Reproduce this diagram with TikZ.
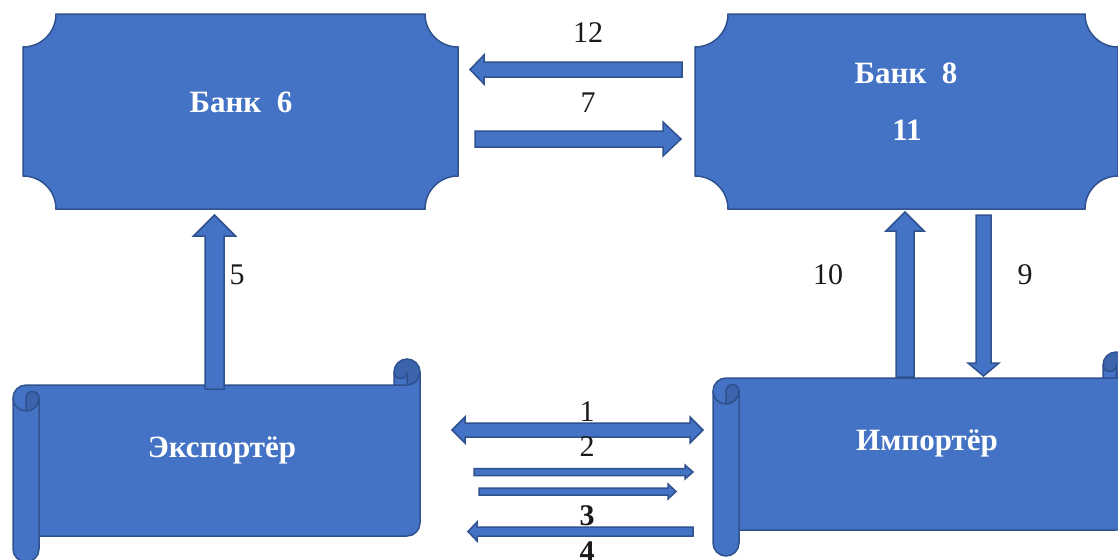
\documentclass[tikz,border=0pt]{standalone}
\usepackage{fontspec}
\setmainfont{Liberation Serif}
\usetikzlibrary{calc}

\definecolor{boxblue}{HTML}{4472C4}
\definecolor{boxedge}{HTML}{2F528F}
\definecolor{curlblue}{HTML}{3B64AD}
\definecolor{labelgray}{HTML}{1A1A1A}

\tikzset{
  bankbox/.style={fill=boxblue, draw=boxedge, line width=0.75pt},
  scrollfill/.style={fill=boxblue, draw=boxedge, line width=0.75pt},
  scrolledge/.style={draw=boxedge, line width=0.75pt},
  arrowbox/.style={fill=boxblue, draw=boxedge, line width=0.75pt, line join=miter},
  boxtext/.style={text=white, font=\fontsize{15.5}{18}\selectfont\bfseries},
  numlabel/.style={text=labelgray, font=\fontsize{15}{18}\selectfont}
}

% plaque: left, top, right, bottom
\newcommand\plaque[4]{%
  \draw[bankbox] (#1+33,#2) -- (#3-33,#2) arc[start angle=180,end angle=90,radius=33]
    -- (#3,#4-33) arc[start angle=270,end angle=180,radius=33]
    -- (#1+33,#4) arc[start angle=0,end angle=-90,radius=33]
    -- (#1,#2+33) arc[start angle=90,end angle=0,radius=33] -- cycle;}

% scroll: left, top, right, bottom
\newcommand\scrollbox[4]{%
  \draw[scrollfill, path picture={
      \fill[curlblue] (#1+13,#2+52) arc[start angle=90,delta angle=-90,radius=13]
        arc[start angle=0,delta angle=-180,radius=6.5] -- cycle
        (#3-13,#2+26) arc[start angle=90,delta angle=-270,radius=13]
        arc[start angle=180,delta angle=-180,radius=6.5] -- cycle;}]
    (#1,#2+39) arc[start angle=180,delta angle=90,radius=13] -- (#3-26,#2+26)
    -- (#3-26,#2+13) arc[start angle=180,delta angle=180,radius=13]
    -- (#3,#4-39) arc[start angle=0,delta angle=90,radius=13]
    -- (#1+26,#4-26) -- (#1+26,#4-13) arc[start angle=0,delta angle=180,radius=13] -- cycle;
  \draw[scrolledge] (#3-26,#2+26) -- (#3-13,#2+26) arc[start angle=90,delta angle=-90,radius=13]
    (#3-13,#2+26) -- (#3-13,#2+13) arc[start angle=0,delta angle=180,radius=6.5]
    (#1+13,#2+52) -- (#1+13,#2+39) arc[start angle=180,delta angle=180,radius=6.5]
      arc[start angle=0,delta angle=180,radius=13]
    (#1+26,#2+39) -- (#1+26,#4-26);}

% block arrow: from, to, shaft half width, head half width, head length
\newcommand\blockarrow[5]{%
  \coordinate (hd) at ($(#2)!#5!(#1)$);
  \draw[arrowbox] ($(#1)!#3!90:(#2)$) -- ($(hd)!#3!90:(#2)$) -- ($(hd)!#4!90:(#2)$)
    -- (#2) -- ($(hd)!#4!-90:(#2)$) -- ($(hd)!#3!-90:(#2)$) -- ($(#1)!#3!-90:(#2)$) -- cycle;}

\newcommand\dblarrow[5]{%
  \coordinate (ha) at ($(#1)!#5!(#2)$);
  \coordinate (hb) at ($(#2)!#5!(#1)$);
  \draw[arrowbox] (#1) -- ($(ha)!#4!90:(#2)$) -- ($(ha)!#3!90:(#2)$) -- ($(hb)!#3!90:(#2)$)
    -- ($(hb)!#4!90:(#2)$) -- (#2) -- ($(hb)!#4!-90:(#2)$) -- ($(hb)!#3!-90:(#2)$)
    -- ($(ha)!#3!-90:(#2)$) -- ($(ha)!#4!-90:(#2)$) -- cycle;}

\begin{document}
\begin{tikzpicture}[x=0.5pt, y=-0.5pt]
\useasboundingbox (0,0) rectangle (1118,559);

\plaque{23}{14}{458}{209}
\plaque{695}{14}{1118}{209}
\scrollbox{13}{359}{420}{562}
\scrollbox{713}{352}{1129}{556}

\node[boxtext] (bank6) at (241,102) {Банк\ \ 6};
\node[boxtext] (bank8) at (906,73) {Банк\ \ 8};
\node[boxtext] (bank8b) at (907,130) {11};
\node[boxtext] (exporter) at (222,450) {Экспортёр};
\node[boxtext] (importer) at (927,443) {Импортёр};

% arrow ends
\foreach \n/\xa/\ya/\xb/\yb in {12/682/69.5/470/69.5, 7/475/139/681/139,
    5/214.5/389/214.5/215, 10/905/377/905/212, 9/983.5/215/983.5/376,
    1/452/430/703/430, 2/474/472/693/472, 3/479/491.5/676/491.5, 4/693/531.5/468/531.5} {
  \coordinate (s\n) at (\xa,\ya);
  \coordinate (e\n) at (\xb,\yb);
}

\blockarrow{s12}{e12}{3.75pt}{7.25pt}{7pt}
\blockarrow{s7}{e7}{4pt}{8.5pt}{9pt}
\blockarrow{s5}{e5}{4.75pt}{10.5pt}{10.5pt}
\blockarrow{s10}{e10}{4.5pt}{9.5pt}{9.5pt}
\blockarrow{s9}{e9}{3.75pt}{7.75pt}{6.5pt}
\dblarrow{s1}{e1}{3.5pt}{6.5pt}{6.5pt}
\blockarrow{s2}{e2}{1.75pt}{3.5pt}{4pt}
\blockarrow{s3}{e3}{1.75pt}{3.75pt}{4pt}
\blockarrow{s4}{e4}{2.25pt}{4.75pt}{4.5pt}

\foreach \n/\x/\y in {12/588/33, 7/588/103, 5/237/275, 10/828/275, 9/1025/275, 1/587/412, 2/587/447} {
  \node[numlabel] (l\n) at (\x,\y) {\n};
}
\node[numlabel, font=\fontsize{15}{18}\selectfont\bfseries] (l3) at (587,516) {3};
\node[numlabel, font=\fontsize{15}{18}\selectfont\bfseries] (l4) at (587,552) {4};

\end{tikzpicture}
\end{document}
